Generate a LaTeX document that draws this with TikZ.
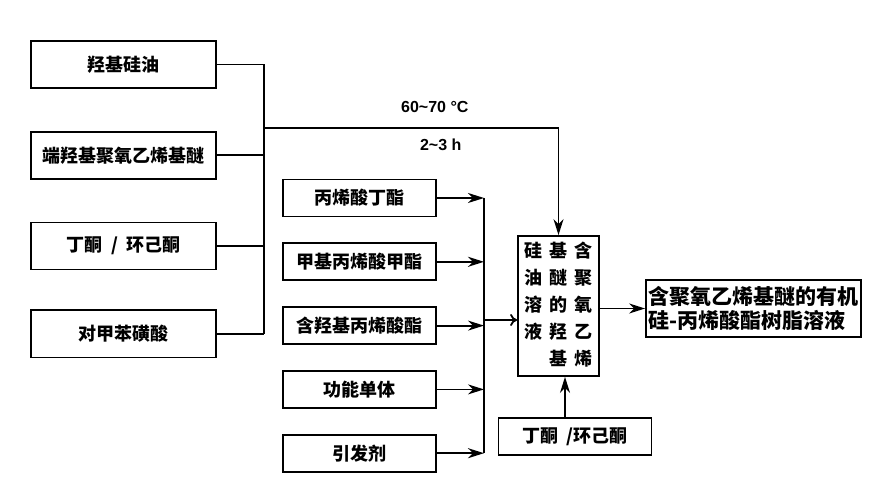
\documentclass[tikz,border=0pt]{standalone}
\usepackage{fontspec}
\usepackage{xcolor}
\usepackage{tikz}
\usetikzlibrary{arrows.meta,positioning}
\newfontfamily\cjk{Noto Sans CJK SC}
\setmainfont{Liberation Sans}

\begin{document}
\begin{tikzpicture}[
  x=1pt, y=-1pt,
  node distance=42pt and 40pt,
  feed/.style={draw, line width=1.8pt, fill=white, inner sep=0pt,
               minimum height=47pt, minimum width=185pt,
               font=\cjk\bfseries\fontsize{18}{21}\selectfont},
  monomer/.style={draw, line width=1.8pt, fill=white, inner sep=0pt,
                  minimum height=37pt, minimum width=153pt,
                  font=\cjk\bfseries\fontsize{18}{21}\selectfont},
  mixbox/.style={draw, line width=1.8pt, fill=white, inner sep=0pt,
                 minimum height=140pt, minimum width=81pt,
                 font=\cjk\bfseries\fontsize{18}{27}\selectfont},
  product/.style={draw, line width=1.8pt, fill=white, inner sep=2pt,
                  minimum height=57pt, minimum width=215pt, align=left,
                  font=\cjk\bfseries\fontsize{21}{24}\selectfont},
  pipe/.style={line width=1.8pt},
  dep/.style={-{Stealth[length=16pt, width=10pt, inset=5pt]}, line width=1.8pt},
  feedin/.style={-{To[length=7pt, width=12pt]}, line width=1.8pt},
  cond/.style={font=\bfseries\fontsize{16}{18}\selectfont}
]
  \useasboundingbox (0,0) rectangle (876,489);

  % raw materials for the hydroxy silicone oil solution
  \node[feed] (oil) at (123.5,64.5) {羟基硅油};
  \node[feed] (ether) [below=of oil] {端羟基聚氧乙烯基醚};
  \node[feed] (solv) [below=of ether] {丁酮 \ / \ 环己酮};
  \node[feed] (acid) [below=39pt of solv] {对甲苯磺酸};

  % acrylic monomers and initiator
  \node[monomer] (ba) at (359.5,198) {丙烯酸丁酯};
  \node[monomer] (mma) [below=25pt of ba] {甲基丙烯酸甲酯};
  \node[monomer] (hea) [below=25pt of mma] {含羟基丙烯酸酯};
  \node[monomer] (func) [below=25pt of hea] {功能单体};
  \node[monomer] (init) [below=25pt of func] {引发剂};

  \node[mixbox] (mix) at (558.5,306) {%
    \begin{tabular}{@{}c@{\hspace{7pt}}c@{\hspace{7pt}}c@{}}
      硅 & 基 & 含\\
      油 & 醚 & 聚\\
      溶 & 的 & 氧\\
      液 & 羟 & 乙\\
         & 基 & 烯
    \end{tabular}};
  \node[product] (resin) at (753.5,308.5)
    {含聚氧乙烯基醚的有机\\硅-丙烯酸酯树脂溶液};
  \node[monomer] (dilute) at (575,436.5) {丁酮 \,/环己酮};

  \coordinate (lbus) at (264,128);
  \coordinate (rbus) at (484,320);

  % left collector
  \draw[pipe] (oil.east) -- (oil.east -| lbus);
  \draw[pipe] (ether.east) -- (ether.east -| lbus);
  \draw[pipe] (solv.east) -- (solv.east -| lbus);
  \draw[pipe] (acid.east) -- (acid.east -| lbus);
  \draw[pipe] (oil.east -| lbus) -- (acid.east -| lbus);
  \draw[dep] (lbus) -| node[cond, pos=0.29, above=11pt] {60\textasciitilde70 °C}
                       node[cond, pos=0.30, below=7pt] {2\textasciitilde3 h} (mix.north);

  % right collector
  \draw[dep] (ba.east) -- (ba.east -| rbus);
  \draw[dep] (mma.east) -- (mma.east -| rbus);
  \draw[dep] (hea.east) -- (hea.east -| rbus);
  \draw[dep] (func.east) -- (func.east -| rbus);
  \draw[dep] (init.east) -- (init.east -| rbus);
  \draw[pipe] (ba.east -| rbus) -- (init.east -| rbus);
  \draw[feedin] (rbus) -- (rbus -| mix.west);

  \draw[dep] (mix.east |- resin.west) -- (resin.west);
  \draw[dep] ([xshift=-10pt]dilute.north) -- ([xshift=-10pt]dilute.north |- mix.south);
\end{tikzpicture}
\end{document}
